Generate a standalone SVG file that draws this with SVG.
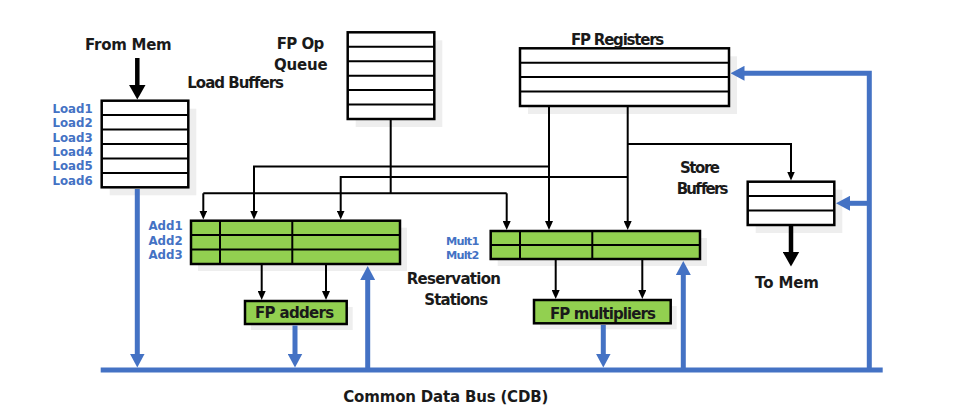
<svg xmlns="http://www.w3.org/2000/svg" width="953" height="417" viewBox="0 0 953 417">
<style>
text{font-family:"DejaVu Sans","Liberation Sans",sans-serif;font-weight:bold;fill:#1a1a1a}
.h{font-size:15px}
.lbl{font-size:11.8px;fill:#4472C4;text-anchor:end}
.box{fill:#fff;stroke:#000;stroke-width:2.5}
.grn{fill:#92D050;stroke:#000;stroke-width:2.5}
.sh{fill:#EEEEEE}
.row{stroke:#000;stroke-width:2;fill:none}
.w{stroke:#000;stroke-width:2;fill:none}
.wk{stroke:#000;stroke-width:4.5;fill:none}
.b{stroke:#4472C4;stroke-width:5;fill:none}
</style>
<defs>
<marker id="ak" markerUnits="userSpaceOnUse" viewBox="0 0 9 8" markerWidth="9" markerHeight="8" refX="0.5" refY="4" orient="auto"><path d="M0,0L9,4L0,8Z" fill="#000"/></marker>
<marker id="ab" markerUnits="userSpaceOnUse" viewBox="0 0 14 15" markerWidth="14" markerHeight="15" refX="0.5" refY="7.5" orient="auto"><path d="M0,0L14,7.5L0,15Z" fill="#4472C4"/></marker>
<marker id="aK" markerUnits="userSpaceOnUse" viewBox="0 0 15 17" markerWidth="15" markerHeight="17" refX="0.5" refY="8.5" orient="auto"><path d="M0,0L15,8.5L0,17Z" fill="#000"/></marker>
</defs>
<rect width="953" height="417" fill="#fff"/>

<g id="load-buffers">
<rect class="sh" x="109.7" y="108.7" width="86.6" height="86.6"/>
<rect class="box" x="101.7" y="100.7" width="86.6" height="86.6"/>
<path class="row" d="M101.7,115.1H188.3M101.7,129.6H188.3M101.7,144H188.3M101.7,158.4H188.3M101.7,172.9H188.3"/>
<text class="lbl" x="92.7" y="112.7">Load1</text>
<text class="lbl" x="92.7" y="127.1">Load2</text>
<text class="lbl" x="92.7" y="141.5">Load3</text>
<text class="lbl" x="92.7" y="155.9">Load4</text>
<text class="lbl" x="92.7" y="170.3">Load5</text>
<text class="lbl" x="92.7" y="184.7">Load6</text>
<text class="h" x="187.3" y="88.3" textLength="96.7">Load Buffers</text>
</g>

<g id="from-mem">
<text class="h" x="85" y="50" textLength="86.7">From Mem</text>
</g>

<g id="fp-op-queue">
<rect class="sh" x="355.7" y="40.3" width="86.6" height="86.7"/>
<rect class="box" x="347.7" y="32.3" width="86.6" height="86.7"/>
<path class="row" d="M347.7,46.75H434.3M347.7,61.2H434.3M347.7,75.65H434.3M347.7,90.1H434.3M347.7,104.55H434.3"/>
<text class="h" x="276.7" y="49.3" textLength="47.6">FP Op</text>
<text class="h" x="274" y="70" textLength="53.7">Queue</text>
</g>

<g id="fp-registers">
<rect class="sh" x="528" y="56.3" width="209" height="57.7"/>
<rect class="box" x="520" y="48.3" width="209" height="57.7"/>
<path class="row" d="M520,62.7H729M520,77.1H729M520,91.5H729"/>
<text class="h" x="571" y="45" textLength="93.3">FP Registers</text>
</g>

<g id="store-buffers">
<rect class="sh" x="755.7" y="189.7" width="86.6" height="43.3"/>
<rect class="box" x="747.7" y="181.7" width="86.6" height="43.3"/>
<path class="row" d="M747.7,196.1H834.3M747.7,210.6H834.3"/>
<text class="h" x="680" y="173.3" textLength="40">Store</text>
<text class="h" x="676.7" y="194" textLength="51.7">Buffers</text>
</g>

<g id="to-mem">
<text class="h" x="755" y="288.3" textLength="64">To Mem</text>
</g>

<g id="add-rs">
<rect class="sh" x="198" y="227.7" width="209" height="43.3"/>
<rect class="grn" x="191" y="220.7" width="209" height="43.3"/>
<path class="row" d="M191,235.1H400M191,249.6H400M220,220.7V264M292.3,220.7V264"/>
<text class="lbl" x="182.7" y="230">Add1</text>
<text class="lbl" x="182.7" y="244.5">Add2</text>
<text class="lbl" x="182.7" y="259">Add3</text>
</g>

<g id="mult-rs">
<rect class="sh" x="497.7" y="238" width="209.3" height="28"/>
<rect class="grn" x="490.7" y="231" width="209.3" height="28"/>
<path class="row" d="M490.7,245H700M520,231V259M592.3,231V259"/>
<text class="lbl" x="479.3" y="244.5" style="font-size:11.3px" textLength="33.3">Mult1</text>
<text class="lbl" x="479.3" y="258.7" style="font-size:11.3px" textLength="33.3">Mult2</text>
</g>

<g id="reservation-label">
<text class="h" x="406.7" y="284" textLength="94.3">Reservation</text>
<text class="h" x="424.3" y="305" textLength="64">Stations</text>
</g>

<g id="fp-adders">
<rect class="sh" x="251" y="307" width="101.7" height="23"/>
<rect class="grn" x="245" y="301" width="101.7" height="23"/>
<text class="h" x="255" y="318" textLength="79.3">FP adders</text>
</g>

<g id="fp-multipliers">
<rect class="sh" x="540" y="306" width="136.7" height="23.3"/>
<rect class="grn" x="534" y="300" width="136.7" height="23.3"/>
<text class="h" x="550" y="318.5" textLength="106">FP multipliers</text>
</g>

<g id="cdb">
<text class="h" x="343.3" y="401.7" textLength="205">Common Data Bus (CDB)</text>
</g>

<g id="connectors">
<path class="w" d="M390.7,120V193.3M203.3,193.3H506.7"/>
<path class="w" d="M203.3,193.3V211" marker-end="url(#ak)"/>
<path class="w" d="M506.7,193.3V221.5" marker-end="url(#ak)"/>
<path class="w" d="M549,107V221.5" marker-end="url(#ak)"/>
<path class="w" d="M549,166.5H254V211" marker-end="url(#ak)"/>
<path class="w" d="M627.7,107V221.5" marker-end="url(#ak)"/>
<path class="w" d="M627.7,177H340.7V211" marker-end="url(#ak)"/>
<path class="w" d="M627.7,144H791V172" marker-end="url(#ak)"/>
<path class="w" d="M261.7,265V291.5" marker-end="url(#ak)"/>
<path class="w" d="M326,265V291.5" marker-end="url(#ak)"/>
<path class="w" d="M555.7,260V290.5" marker-end="url(#ak)"/>
<path class="w" d="M642.3,260V290.5" marker-end="url(#ak)"/>
<path class="wk" d="M137.3,58V85" marker-end="url(#aK)"/>
<path class="wk" d="M791,226V252" marker-end="url(#aK)"/>
<path class="b" d="M100.7,370H882.7"/>
<path class="b" d="M137.3,189V354" marker-end="url(#ab)"/>
<path class="b" d="M295,325.5V354" marker-end="url(#ab)"/>
<path class="b" d="M603.3,325V354" marker-end="url(#ab)"/>
<path class="b" d="M367.7,370V279.5" marker-end="url(#ab)"/>
<path class="b" d="M683.3,370V274.5" marker-end="url(#ab)"/>
<path class="b" d="M869.3,370V73.3H744" marker-end="url(#ab)"/>
<path class="b" d="M869.3,203.3H849.5" marker-end="url(#ab)"/>
</g>
</svg>
